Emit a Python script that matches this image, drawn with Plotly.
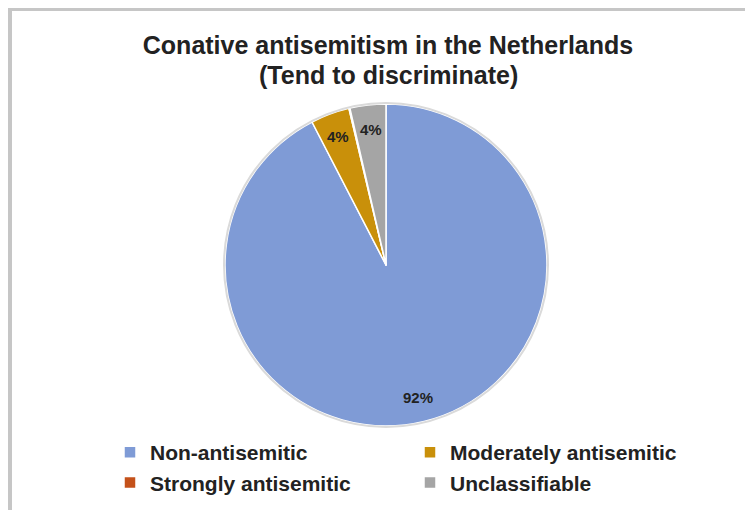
import math
import plotly.graph_objects as go

# ---- data ----
labels = ["Non-antisemitic", "Moderately antisemitic", "Strongly antisemitic", "Unclassifiable"]
values = [92.4, 3.9, 0.1, 3.6]
shown_text = ["92%", "4%", "", "4%"]
colors = ["#7F9BD6", "#C9900A", "#C4511A", "#A5A5A5"]
title_line1 = "Conative antisemitism in the Netherlands"
title_line2 = "(Tend to discriminate)"

# the page body adds an 8px offset, so work in reference pixels minus 8
OFF = 8
W, H = 753 - OFF, 510 - OFF
CX, CY, R = 386 - OFF, 265 - OFF, 161  # pie centre / radius in pixels

FONT = "Liberation Sans"
TITLE_FONT = dict(family=FONT, size=25, color="#222222", weight="bold")

fig = go.Figure(go.Pie(
    labels=labels,
    values=values,
    sort=False,
    direction="clockwise",
    rotation=0,
    textinfo="none",
    hoverinfo="label+percent",
    marker=dict(colors=colors, line=dict(color="white", width=1.5)),
    domain=dict(x=[(CX - R) / W, (CX + R) / W], y=[(H - CY - R) / H, (H - CY + R) / H]),
))

# data labels placed at mid-angle of each slice
total = sum(values)
cum = 0.0
annotations = []
for v, t in zip(values, shown_text):
    mid = (cum + v / 2) / total * 2 * math.pi
    cum += v
    if not t:
        continue
    r = 0.85 * R
    x = (CX + r * math.sin(mid)) / W
    y = (H - CY + r * math.cos(mid)) / H
    annotations.append(dict(x=x, y=y, xref="paper", yref="paper", text=t,
                            xanchor="center", yanchor="middle", showarrow=False,
                            font=dict(family=FONT, size=15, color="#222222", weight="bold")))

# second title line
annotations.append(dict(x=(388 - OFF) / W, y=1 - (75 - OFF) / H, xref="paper", yref="paper",
                        text=title_line2, xanchor="center", yanchor="middle", showarrow=False,
                        font=TITLE_FONT))

shapes = [
    # outer frame (top and left bands)
    dict(type="rect", xref="paper", yref="paper", x0=0, x1=1, y0=1 - 3 / H, y1=1,
         fillcolor="#C6C6C6", line=dict(width=0), layer="below"),
    dict(type="rect", xref="paper", yref="paper", x0=0, x1=4 / W, y0=0, y1=1,
         fillcolor="#C6C6C6", line=dict(width=0), layer="below"),
    # pie outline
    dict(type="circle", xref="paper", yref="paper",
         x0=(CX - R - 1) / W, x1=(CX + R + 1) / W, y0=(H - CY - R - 1) / H, y1=(H - CY + R + 1) / H,
         line=dict(color="#DADADA", width=2), fillcolor="rgba(0,0,0,0)"),
]

fig.update_layout(
    width=W, height=H,
    margin=dict(l=0, r=0, t=0, b=0, autoexpand=False),
    paper_bgcolor="white",
    plot_bgcolor="white",
    title=dict(text=title_line1, x=(388 - OFF) / W, xanchor="center", y=1 - (45 - OFF) / H, yanchor="middle",
               xref="paper", yref="paper", font=TITLE_FONT),
    legend=dict(orientation="h", x=(110 - OFF) / W, xanchor="left", y=1 - (432 - OFF) / H, yanchor="top",
                entrywidth=255, entrywidthmode="pixels",
                font=dict(family=FONT, size=21, color="#222222", weight="bold"), itemclick=False),
    annotations=annotations,
    shapes=shapes,
)

fig.write_html("out.html")
